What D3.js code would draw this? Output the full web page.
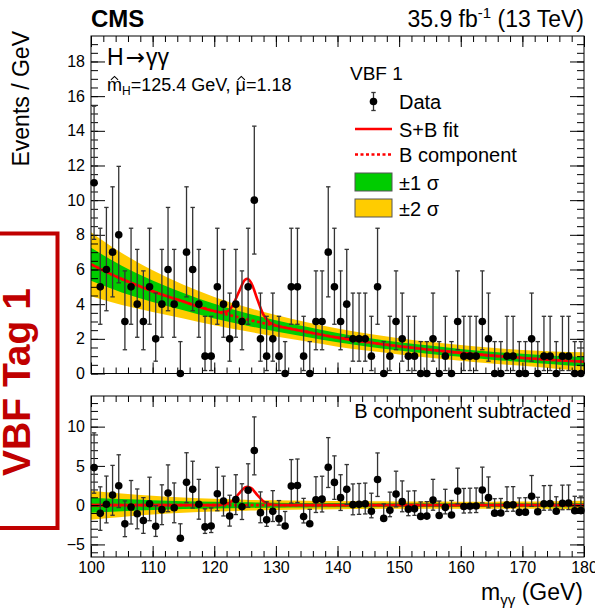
<!DOCTYPE html>
<html>
<head>
<meta charset="utf-8">
<script src="https://cdn.jsdelivr.net/npm/d3@7"></script>
<style>
body { margin: 0; background: #fff; }
svg { display: block; }
text { font-family: "Liberation Sans", Arial, Helvetica, sans-serif; }
</style>
</head>
<body>
<svg id="chart" width="595" height="608"></svg>
<script>
// observed events per 1 GeV bin, 100 - 180 GeV
var counts = [11,5,6,7,8,3,5,4,3,5, 2,4,6,4,0,7,6,4,1,1,
              5,4,2,4,3,5,10,2,1,2, 1,0,5,5,1,0,3,3,7,5,
              3,4,2,2,2,1,5,0,1,3, 2,1,1,0,0,2,0,1,0,3,
              1,1,1,3,2,0,0,1,1,0, 0,2,0,1,1,0,1,1,0,0];

// poisson interval half widths, indexed by count
var errLo = [0, 0.83, 1.29, 1.63, 1.91, 2.16, 2.38, 2.58, 2.77, 2.94, 3.11, 3.26];
var errHi = [1.84, 2.30, 2.64, 2.92, 3.16, 3.38, 3.58, 3.77, 3.95, 4.11, 4.27, 4.42];

// background component and its uncertainty bands
var bgMass = [100,105,110,115,120,125,130,135,140,145,150,155,160,165,170,175,180];
var bgVal  = [6.3,5.45,4.75,4.15,3.6,3.15,2.75,2.4,2.07,1.8,1.57,1.37,1.19,1.03,0.9,0.78,0.68];
var band1  = [0.95,0.77,0.62,0.5,0.42,0.36,0.32,0.29,0.27,0.25,0.24,0.24,0.23,0.23,0.24,0.25,0.28];
var band2  = [1.85,1.5,1.2,0.97,0.82,0.7,0.62,0.56,0.52,0.49,0.47,0.46,0.45,0.45,0.46,0.49,0.55];

// signal component of the S+B fit
var sigMass = [120,121,122,123,124,125,125.4,126,127,128,129,130,131];
var sigVal  = [0,0.02,0.15,0.6,1.47,2.26,2.35,2.16,1.28,0.47,0.11,0.02,0];

var xMajor = [100,110,120,130,140,150,160,170,180];
var topMajor = [0,2,4,6,8,10,12,14,16,18];
var botMajor = [-5,0,5,10];

var svg = d3.select("#chart");
svg.append("rect").attr("width", 595).attr("height", 608).attr("fill", "#fff");

var x = d3.scaleLinear().domain([100, 180]).range([91, 584]);
var yTop = d3.scaleLinear().domain([0, 19.47]).range([373.5, 36]);
var yBot = d3.scaleLinear().domain([-6.6, 13.9]).range([557, 396]);

var bgAt = d3.scaleLinear().domain(bgMass).range(bgVal);
var sigAt = d3.scaleLinear().domain(sigMass).range(sigVal).clamp(true);

var centres = counts.map(function(n, i){ return 100.5 + i; });
var bandData = bgMass.map(function(m, i){
    return {m: m, b: bgVal[i], w1: band1[i], w2: band2[i]};
});
var grid = Array.from(new Set(bgMass.concat(sigMass))).sort(function(a, b){ return a - b; });

var defs = svg.append("defs");
defs.append("clipPath").attr("id", "clipTop").append("rect")
    .attr("x", 91).attr("y", 36).attr("width", 493).attr("height", 337.5);
defs.append("clipPath").attr("id", "clipBot").append("rect")
    .attr("x", 91).attr("y", 396).attr("width", 493).attr("height", 161);

function drawFit(y, clip, subtract) {
    var g = svg.append("g").attr("clip-path", "url(#" + clip + ")");
    var base = function(d){ return subtract ? 0 : d.b; };
    var area = function(key){
        return d3.area().curve(d3.curveMonotoneX)
            .x(function(d){ return x(d.m); })
            .y0(function(d){ return y(base(d) - d[key]); })
            .y1(function(d){ return y(base(d) + d[key]); });
    };
    g.append("path").attr("d", area("w2")(bandData)).attr("fill", "#ffcc00");
    g.append("path").attr("d", area("w1")(bandData)).attr("fill", "#00cc00");

    var line = d3.line().curve(d3.curveMonotoneX)
        .x(function(d){ return x(d[0]); })
        .y(function(d){ return y(d[1]); });
    g.append("path")
        .attr("d", line(bgMass.map(function(m, i){ return [m, subtract ? 0 : bgVal[i]]; })))
        .attr("fill", "none").attr("stroke", "#ff0000").attr("stroke-width", 2.6)
        .attr("stroke-dasharray", "3,2.5");
    g.append("path")
        .attr("d", line(grid.map(function(m){ return [m, (subtract ? 0 : bgAt(m)) + sigAt(m)]; })))
        .attr("fill", "none").attr("stroke", "#ff0000").attr("stroke-width", 2.6);
}

function drawPoints(y, subtract) {
    var data = counts.map(function(n, i){
        return {m: centres[i], n: n, v: subtract ? n - bgAt(centres[i]) : n};
    });
    var g = svg.append("g");
    var pts = g.selectAll("g").data(data).join("g");
    pts.append("line")
        .attr("x1", function(d){ return x(d.m); })
        .attr("x2", function(d){ return x(d.m); })
        .attr("y1", function(d){ return y(d.v - errLo[d.n]); })
        .attr("y2", function(d){ return y(d.v + errHi[d.n]); })
        .attr("stroke", "#333").attr("stroke-width", 1.3);
    pts.append("line")
        .attr("x1", function(d){ return x(d.m) - 2.2; })
        .attr("x2", function(d){ return x(d.m) + 2.2; })
        .attr("y1", function(d){ return y(d.v + errHi[d.n]); })
        .attr("y2", function(d){ return y(d.v + errHi[d.n]); })
        .attr("stroke", "#333").attr("stroke-width", 1.3);
    pts.filter(function(d){ return d.n > 0; }).append("line")
        .attr("x1", function(d){ return x(d.m) - 2.2; })
        .attr("x2", function(d){ return x(d.m) + 2.2; })
        .attr("y1", function(d){ return y(d.v - errLo[d.n]); })
        .attr("y2", function(d){ return y(d.v - errLo[d.n]); })
        .attr("stroke", "#333").attr("stroke-width", 1.3);
    pts.append("circle")
        .attr("cx", function(d){ return x(d.m); })
        .attr("cy", function(d){ return y(d.v); })
        .attr("r", 3.8).attr("fill", "#000");
}

function styleAxis(g) {
    g.select(".domain").remove();
    g.selectAll(".tick line").attr("stroke", "#000").attr("stroke-width", 1);
    g.selectAll("text").attr("fill", "#000")
        .style("font-family", '"Liberation Sans", Arial, sans-serif').style("font-size", "16px");
}

function drawAxes(y, top, bottom, yMaj, yMinStep, xLabels) {
    var d = y.domain();
    var yMin = d3.range(Math.ceil(d[0] / yMinStep) * yMinStep, d[1], yMinStep);
    var xMin = d3.range(100, 181, 2);
    var none = function(){ return ""; };

    svg.append("g").attr("transform", "translate(91,0)")
        .call(d3.axisLeft(y).tickValues(yMin).tickSize(-7).tickSizeOuter(0).tickFormat(none)).call(styleAxis);
    svg.append("g").attr("transform", "translate(91,0)")
        .call(d3.axisLeft(y).tickValues(yMaj).tickSize(-14).tickSizeOuter(0).tickPadding(6)).call(styleAxis);
    svg.append("g").attr("transform", "translate(584,0)")
        .call(d3.axisRight(y).tickValues(yMin).tickSize(-7).tickSizeOuter(0).tickFormat(none)).call(styleAxis);
    svg.append("g").attr("transform", "translate(584,0)")
        .call(d3.axisRight(y).tickValues(yMaj).tickSize(-14).tickSizeOuter(0).tickFormat(none)).call(styleAxis);

    svg.append("g").attr("transform", "translate(0," + bottom + ")")
        .call(d3.axisBottom(x).tickValues(xMin).tickSize(-6).tickSizeOuter(0).tickFormat(none)).call(styleAxis);
    svg.append("g").attr("transform", "translate(0," + bottom + ")")
        .call(d3.axisBottom(x).tickValues(xMajor).tickSize(-11).tickSizeOuter(0).tickPadding(5)
            .tickFormat(xLabels ? d3.format("d") : none)).call(styleAxis);
    svg.append("g").attr("transform", "translate(0," + top + ")")
        .call(d3.axisTop(x).tickValues(xMin).tickSize(-6).tickSizeOuter(0).tickFormat(none)).call(styleAxis);
    svg.append("g").attr("transform", "translate(0," + top + ")")
        .call(d3.axisTop(x).tickValues(xMajor).tickSize(-11).tickSizeOuter(0).tickFormat(none)).call(styleAxis);

    svg.append("rect").attr("x", 91).attr("y", top).attr("width", 493).attr("height", bottom - top)
        .attr("fill", "none").attr("stroke", "#000").attr("stroke-width", 1);
}

// upper panel
drawFit(yTop, "clipTop", false);
drawAxes(yTop, 36, 373.5, topMajor, 0.5, false);
drawPoints(yTop, false);

// lower panel (background subtracted)
drawFit(yBot, "clipBot", true);
drawAxes(yBot, 396, 557, botMajor, 1, true);
drawPoints(yBot, true);

// header
svg.append("text").attr("x", 91).attr("y", 27).attr("font-size", 24).attr("font-weight", "bold").text("CMS");
var lumi = svg.append("text").attr("x", 584).attr("y", 27).attr("font-size", 23).attr("text-anchor", "end");
lumi.append("tspan").text("35.9 fb");
lumi.append("tspan").attr("dy", -9).attr("font-size", 15).text("-1");
lumi.append("tspan").attr("dy", 9).text(" (13 TeV)");

// labels inside the top panel
var hgg = svg.append("text").attr("x", 107).attr("y", 65).attr("font-size", 23);
hgg.append("tspan").text("H");
hgg.append("tspan").attr("dx", 2).style("font-family", '"DejaVu Sans", sans-serif').text("\u2192");
hgg.append("tspan").attr("dx", 1).text("\u03b3\u03b3");

var fitLbl = svg.append("text").attr("x", 107).attr("y", 91).attr("font-size", 18);
fitLbl.append("tspan").text("m");
fitLbl.append("tspan").attr("dy", 4).attr("font-size", 12).text("H");
fitLbl.append("tspan").attr("dy", -4).text("=125.4 GeV, \u03bc=1.18");
// hats over m and mu
[0, 14].forEach(function(idx){
    var ext = fitLbl.node().getExtentOfChar(idx);
    var cx = ext.x + ext.width / 2 + (idx === 14 ? 0.5 : 0);
    var top = 91 - 0.53 * 18;
    svg.append("path")
        .attr("d", "M" + (cx - 3.6) + "," + (top - 1.5) + "L" + cx + "," + (top - 5) + "L" + (cx + 3.6) + "," + (top - 1.5))
        .attr("fill", "none").attr("stroke", "#000").attr("stroke-width", 1.1);
});

// legend
svg.append("text").attr("x", 350).attr("y", 80).attr("font-size", 19).text("VBF 1");
var legRows = [
    {label: "Data", y: 101.5, kind: "data"},
    {label: "S+B fit", y: 129, kind: "solid"},
    {label: "B component", y: 154.5, kind: "dashed"},
    {label: "\u00b11 \u03c3", y: 182, kind: "box", fill: "#00cc00"},
    {label: "\u00b12 \u03c3", y: 208, kind: "box", fill: "#ffcc00"}
];
var leg = svg.append("g").selectAll("g").data(legRows).join("g");
leg.append("text").attr("x", 399).attr("y", function(d){ return d.y + 7.5; })
    .attr("font-size", 20).text(function(d){ return d.label; });
leg.filter(function(d){ return d.kind === "box"; }).append("rect")
    .attr("x", 355).attr("y", function(d){ return d.y - 9; }).attr("width", 37).attr("height", 18)
    .attr("fill", function(d){ return d.fill; }).attr("stroke", "#555").attr("stroke-width", 1);
leg.filter(function(d){ return d.kind === "solid" || d.kind === "dashed"; }).append("line")
    .attr("x1", 355).attr("x2", 392).attr("y1", function(d){ return d.y; }).attr("y2", function(d){ return d.y; })
    .attr("stroke", "#ff0000").attr("stroke-width", 2.6)
    .attr("stroke-dasharray", function(d){ return d.kind === "dashed" ? "3,2.5" : null; });
var legData = leg.filter(function(d){ return d.kind === "data"; });
legData.append("line").attr("x1", 373.5).attr("x2", 373.5)
    .attr("y1", function(d){ return d.y - 9; }).attr("y2", function(d){ return d.y + 9; })
    .attr("stroke", "#333").attr("stroke-width", 1.3);
[-9, 9].forEach(function(off){
    legData.append("line").attr("x1", 371.3).attr("x2", 375.7)
        .attr("y1", function(d){ return d.y + off; }).attr("y2", function(d){ return d.y + off; })
        .attr("stroke", "#333").attr("stroke-width", 1.3);
});
legData.append("circle").attr("cx", 373.5).attr("cy", function(d){ return d.y; }).attr("r", 3.8).attr("fill", "#000");

// lower panel label
svg.append("text").attr("x", 571).attr("y", 418).attr("font-size", 20).attr("text-anchor", "end")
    .text("B component subtracted");

// axis titles
var xt = svg.append("text").attr("x", 583).attr("y", 600).attr("font-size", 23).attr("text-anchor", "end");
xt.append("tspan").text("m");
xt.append("tspan").attr("dy", 5).attr("font-size", 15).text("\u03b3\u03b3");
xt.append("tspan").attr("dy", -5).text(" (GeV)");

svg.append("text").attr("transform", "translate(29,31) rotate(-90)")
    .attr("font-size", 23).attr("text-anchor", "end").text("Events / GeV");

// category tag
svg.append("rect").attr("x", -10).attr("y", 233.5).attr("width", 67.5).attr("height", 294.5)
    .attr("fill", "none").attr("stroke", "#c00000").attr("stroke-width", 4);
svg.append("text").attr("transform", "translate(30,382) rotate(-90)")
    .attr("font-size", 39).attr("font-weight", "bold").attr("fill", "#c00000")
    .attr("text-anchor", "middle").text("VBF Tag 1");
</script>
</body>
</html>
